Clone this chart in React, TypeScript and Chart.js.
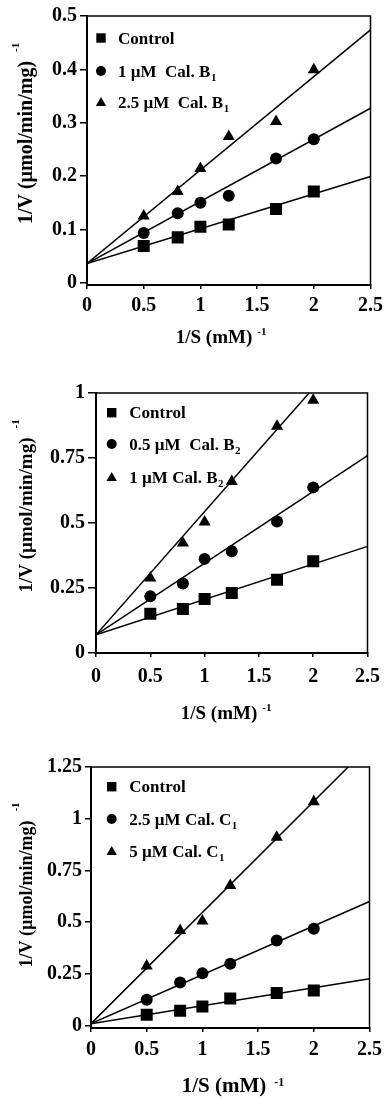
import React, { useEffect, useRef } from "react";
import { Chart, registerables } from "chart.js";

Chart.register(...registerables);

const FONT = "'Liberation Serif', 'Times New Roman', serif";

// ---------- shared data ----------
const xValues = [0.5, 0.8, 1, 1.25, 1.667, 2];
const fitX = [0, 2.5];
const xTicks = [0, 0.5, 1, 1.5, 2, 2.5];
const xTickLabels = ["0", "0.5", "1", "1.5", "2", "2.5"];
const xTitleText = "1/S (mM)";
const yTitleText = "1/V (µmol/min/mg)";
const supText = "-1";

// ---------- panel A (Cal. B1) ----------
const yTicksA = [0, 0.1, 0.2, 0.3, 0.4, 0.5];
const yTickLabelsA = ["0", "0.1", "0.2", "0.3", "0.4", "0.5"];
const controlA = [0.069, 0.085, 0.105, 0.109, 0.138, 0.171];
const lowA = [0.093, 0.13, 0.15, 0.163, 0.233, 0.269];
const highA = [0.125, 0.171, 0.214, 0.274, 0.302, 0.399];
const fitControlA = [0.036, 0.199];
const fitLowA = [0.036, 0.327];
const fitHighA = [0.036, 0.474];
const legendA: [string, string][] = [
  ["Control", ""],
  ["1 µM  Cal. B", "1"],
  ["2.5 µM  Cal. B", "1"],
];

// ---------- panel B (Cal. B2) ----------
const yTicksB = [0, 0.25, 0.5, 0.75, 1];
const yTickLabelsB = ["0", "0.25", "0.5", "0.75", "1"];
const controlB = [0.151, 0.169, 0.208, 0.231, 0.282, 0.353];
const lowB = [0.218, 0.267, 0.362, 0.391, 0.506, 0.637];
const highB = [0.288, 0.423, 0.504, 0.66, 0.872, 0.972];
const fitControlB = [0.07, 0.41];
const fitLowB = [0.07, 0.759];
const fitHighB = [0.07, 1.255];
const legendB: [string, string][] = [
  ["Control", ""],
  ["0.5 µM  Cal. B", "2"],
  ["1 µM Cal. B", "2"],
];

// ---------- panel C (Cal. C1) ----------
const yTicksC = [0, 0.25, 0.5, 0.75, 1, 1.25];
const yTickLabelsC = ["0", "0.25", "0.5", "0.75", "1", "1.25"];
const controlC = [0.053, 0.072, 0.093, 0.132, 0.158, 0.17];
const lowC = [0.125, 0.209, 0.254, 0.299, 0.412, 0.468];
const highC = [0.289, 0.46, 0.506, 0.677, 0.91, 1.082];
const fitControlC = [0.01, 0.227];
const fitLowC = [0.01, 0.6];
const fitHighC = [0.01, 1.353];
const legendC: [string, string][] = [
  ["Control", ""],
  ["2.5 µM Cal. C", "1"],
  ["5 µM Cal. C", "1"],
];

const markerStyles = ["rect", "circle", "triangle"];
const markerRadii = [8.5, 6, 7];

type PanelLayout = {
  top: number;
  height: number;
  area: { left: number; right: number; top: number; bottom: number };
  yMin: number;
  yMax: number;
  tickFont: number;
  xTickLen: number;
  xPad: number;
  yTickLen: number;
  yPad: number;
  legend: { markerX: number; textX: number; rows: number[]; font: number; subFont: number };
  xTitle: { cx: number; baseline: number; font: number; supFont: number; gap: number; raise: number };
  yTitle: { cy: number; baseline: number; font: number; supFont: number; gap: number; raise: number };
};

type PanelData = {
  yTicks: number[];
  yTickLabels: string[];
  series: number[][];
  fits: number[][];
  legend: [string, string][];
};

const panels: { data: PanelData; layout: PanelLayout }[] = [
  {
    data: {
      yTicks: yTicksA,
      yTickLabels: yTickLabelsA,
      series: [controlA, lowA, highA],
      fits: [fitControlA, fitLowA, fitHighA],
      legend: legendA,
    },
    layout: {
      top: 0,
      height: 355,
      area: { left: 87, right: 371, top: 16, bottom: 285 },
      yMin: -0.0043,
      yMax: 0.5,
      tickFont: 20,
      xTickLen: 4,
      xPad: 5,
      yTickLen: 7,
      yPad: 3,
      legend: { markerX: 101, textX: 118, rows: [38, 71, 102], font: 17, subFont: 11 },
      xTitle: { cx: 214, baseline: 343, font: 19, supFont: 11, gap: 5, raise: 8 },
      yTitle: { cy: 142.5, baseline: 32, font: 20, supFont: 11, gap: 9, raise: 13 },
    },
  },
  {
    data: {
      yTicks: yTicksB,
      yTickLabels: yTickLabelsB,
      series: [controlB, lowB, highB],
      fits: [fitControlB, fitLowB, fitHighB],
      legend: legendB,
    },
    layout: {
      top: 355,
      height: 370,
      area: { left: 96, right: 371, top: 393, bottom: 653 },
      yMin: 0,
      yMax: 1,
      tickFont: 20,
      xTickLen: 4,
      xPad: 8,
      yTickLen: 8,
      yPad: 3,
      legend: { markerX: 111.7, textX: 129.3, rows: [412.7, 444, 477], font: 17, subFont: 11 },
      xTitle: { cx: 219, baseline: 719, font: 19, supFont: 11, gap: 5, raise: 8 },
      yTitle: { cy: 515, baseline: 32, font: 19, supFont: 11, gap: 9, raise: 13 },
    },
  },
  {
    data: {
      yTicks: yTicksC,
      yTickLabels: yTickLabelsC,
      series: [controlC, lowC, highC],
      fits: [fitControlC, fitLowC, fitHighC],
      legend: legendC,
    },
    layout: {
      top: 725,
      height: 374,
      area: { left: 91, right: 371, top: 767, bottom: 1028 },
      yMin: -0.011,
      yMax: 1.25,
      tickFont: 20,
      xTickLen: 4,
      xPad: 6,
      yTickLen: 6,
      yPad: 3,
      legend: { markerX: 111.7, textX: 129.3, rows: [786.7, 819, 851], font: 17, subFont: 11 },
      xTitle: { cx: 224, baseline: 1092, font: 21, supFont: 12, gap: 8, raise: 6 },
      yTitle: { cy: 894, baseline: 32, font: 18, supFont: 11, gap: 9, raise: 13 },
    },
  },
];

function drawMarker(ctx: CanvasRenderingContext2D, style: string, x: number, y: number) {
  ctx.beginPath();
  if (style === "rect") {
    ctx.rect(x - 4.7, y - 4.7, 9.4, 9.4);
  } else if (style === "circle") {
    ctx.arc(x, y, 5, 0, Math.PI * 2);
  } else {
    ctx.moveTo(x, y - 5);
    ctx.lineTo(x + 5.2, y + 4);
    ctx.lineTo(x - 5.2, y + 4);
    ctx.closePath();
  }
  ctx.fill();
}

function makeChart(canvas: HTMLCanvasElement, data: PanelData, L: PanelLayout) {
  const off = L.top;
  const datasets: any[] = [];
  data.series.forEach((vals, i) => {
    datasets.push({
      type: "scatter",
      data: xValues.map((x, k) => ({ x, y: vals[k] })),
      pointStyle: markerStyles[i],
      pointRadius: markerRadii[i],
      pointBackgroundColor: "#000",
      pointBorderColor: "#000",
      pointBorderWidth: 0,
      showLine: false,
    });
  });
  data.fits.forEach((f) => {
    datasets.push({
      type: "scatter",
      data: fitX.map((x, k) => ({ x, y: f[k] })),
      showLine: true,
      borderColor: "#000",
      borderWidth: 1.5,
      pointRadius: 0,
    });
  });

  const decor = {
    id: "decor",
    afterDraw(chart: any) {
      const ctx: CanvasRenderingContext2D = chart.ctx;
      const a = chart.chartArea;
      ctx.save();
      // frame (top + right)
      ctx.strokeStyle = "#000";
      ctx.lineWidth = 1.5;
      ctx.beginPath();
      ctx.moveTo(a.left, a.top);
      ctx.lineTo(a.right, a.top);
      ctx.lineTo(a.right, a.bottom);
      ctx.stroke();

      // legend
      ctx.fillStyle = "#000";
      data.legend.forEach(([main, sub], i) => {
        const ry = L.legend.rows[i] - off;
        drawMarker(ctx, markerStyles[i], L.legend.markerX, ry);
        ctx.font = `bold ${L.legend.font}px ${FONT}`;
        ctx.textAlign = "left";
        ctx.textBaseline = "alphabetic";
        const base = ry + 5.6;
        ctx.fillText(main, L.legend.textX, base);
        if (sub) {
          const w = ctx.measureText(main).width;
          ctx.font = `bold ${L.legend.subFont}px ${FONT}`;
          ctx.fillText(sub, L.legend.textX + w + 0.5, base + 4);
        }
      });

      // x title
      const xt = L.xTitle;
      ctx.font = `bold ${xt.font}px ${FONT}`;
      ctx.textAlign = "center";
      ctx.textBaseline = "alphabetic";
      const xw = ctx.measureText(xTitleText).width;
      ctx.fillText(xTitleText, xt.cx, xt.baseline - off);
      ctx.font = `bold ${xt.supFont}px ${FONT}`;
      ctx.textAlign = "left";
      ctx.fillText(supText, xt.cx + xw / 2 + xt.gap, xt.baseline - off - xt.raise);

      // y title
      const yt = L.yTitle;
      ctx.translate(yt.baseline, yt.cy - off);
      ctx.rotate(-Math.PI / 2);
      ctx.font = `bold ${yt.font}px ${FONT}`;
      ctx.textAlign = "center";
      const yw = ctx.measureText(yTitleText).width;
      ctx.fillText(yTitleText, 0, 0);
      ctx.font = `bold ${yt.supFont}px ${FONT}`;
      ctx.textAlign = "left";
      ctx.fillText(supText, yw / 2 + yt.gap, -yt.raise);
      ctx.restore();
    },
  };

  const tickFont = { family: FONT, size: L.tickFont, weight: "bold" as const };

  return new Chart(canvas, {
    type: "scatter",
    data: { datasets },
    plugins: [decor],
    options: {
      animation: false,
      responsive: false,
      maintainAspectRatio: false,
      devicePixelRatio: 1,
      layout: {
        padding: { left: 0, top: L.area.top - off, right: 388 - L.area.right, bottom: 0 },
      },
      plugins: { legend: { display: false }, tooltip: { enabled: false }, title: { display: false } },
      scales: {
        x: {
          type: "linear",
          min: 0,
          max: 2.5,
          afterBuildTicks: (s: any) => {
            s.ticks = xTicks.map((v) => ({ value: v }));
          },
          afterFit: (s: any) => {
            s.height = L.height - (L.area.bottom - off);
          },
          ticks: {
            color: "#000",
            font: tickFont,
            padding: L.xPad,
            maxRotation: 0,
            autoSkip: false,
            callback: (v: any) => {
              const i = xTicks.indexOf(Number(v));
              return i >= 0 ? xTickLabels[i] : "";
            },
          },
          grid: {
            drawOnChartArea: false,
            drawTicks: true,
            tickLength: L.xTickLen,
            color: "#000",
            lineWidth: 1.5,
          },
          border: { display: true, color: "#000", width: 2 },
          title: { display: false },
        },
        y: {
          type: "linear",
          min: L.yMin,
          max: L.yMax,
          afterBuildTicks: (s: any) => {
            s.ticks = data.yTicks.map((v) => ({ value: v }));
          },
          afterFit: (s: any) => {
            s.width = L.area.left;
          },
          ticks: {
            color: "#000",
            font: tickFont,
            padding: L.yPad,
            autoSkip: false,
            callback: (v: any) => {
              const i = data.yTicks.indexOf(Number(v));
              return i >= 0 ? data.yTickLabels[i] : "";
            },
          },
          grid: {
            drawOnChartArea: false,
            drawTicks: true,
            tickLength: L.yTickLen,
            color: "#000",
            lineWidth: 1.5,
          },
          border: { display: true, color: "#000", width: 2 },
          title: { display: false },
        },
      },
    } as any,
  });
}

function PanelChart({ data, layout }: { data: PanelData; layout: PanelLayout }) {
  const ref = useRef<HTMLCanvasElement | null>(null);
  useEffect(() => {
    if (!ref.current) return;
    const chart = makeChart(ref.current, data, layout);
    return () => chart.destroy();
  }, [data, layout]);
  return (
    <canvas
      ref={ref}
      width={388}
      height={layout.height}
      style={{
        position: "absolute",
        left: 0,
        top: layout.top,
        width: 388,
        height: layout.height,
        display: "block",
      }}
    />
  );
}

export default function App() {
  return (
    <div style={{ position: "absolute", left: 0, top: 0, width: 388, height: 1099, background: "#fff" }}>
      {panels.map((p, i) => (
        <PanelChart key={i} data={p.data} layout={p.layout} />
      ))}
    </div>
  );
}
